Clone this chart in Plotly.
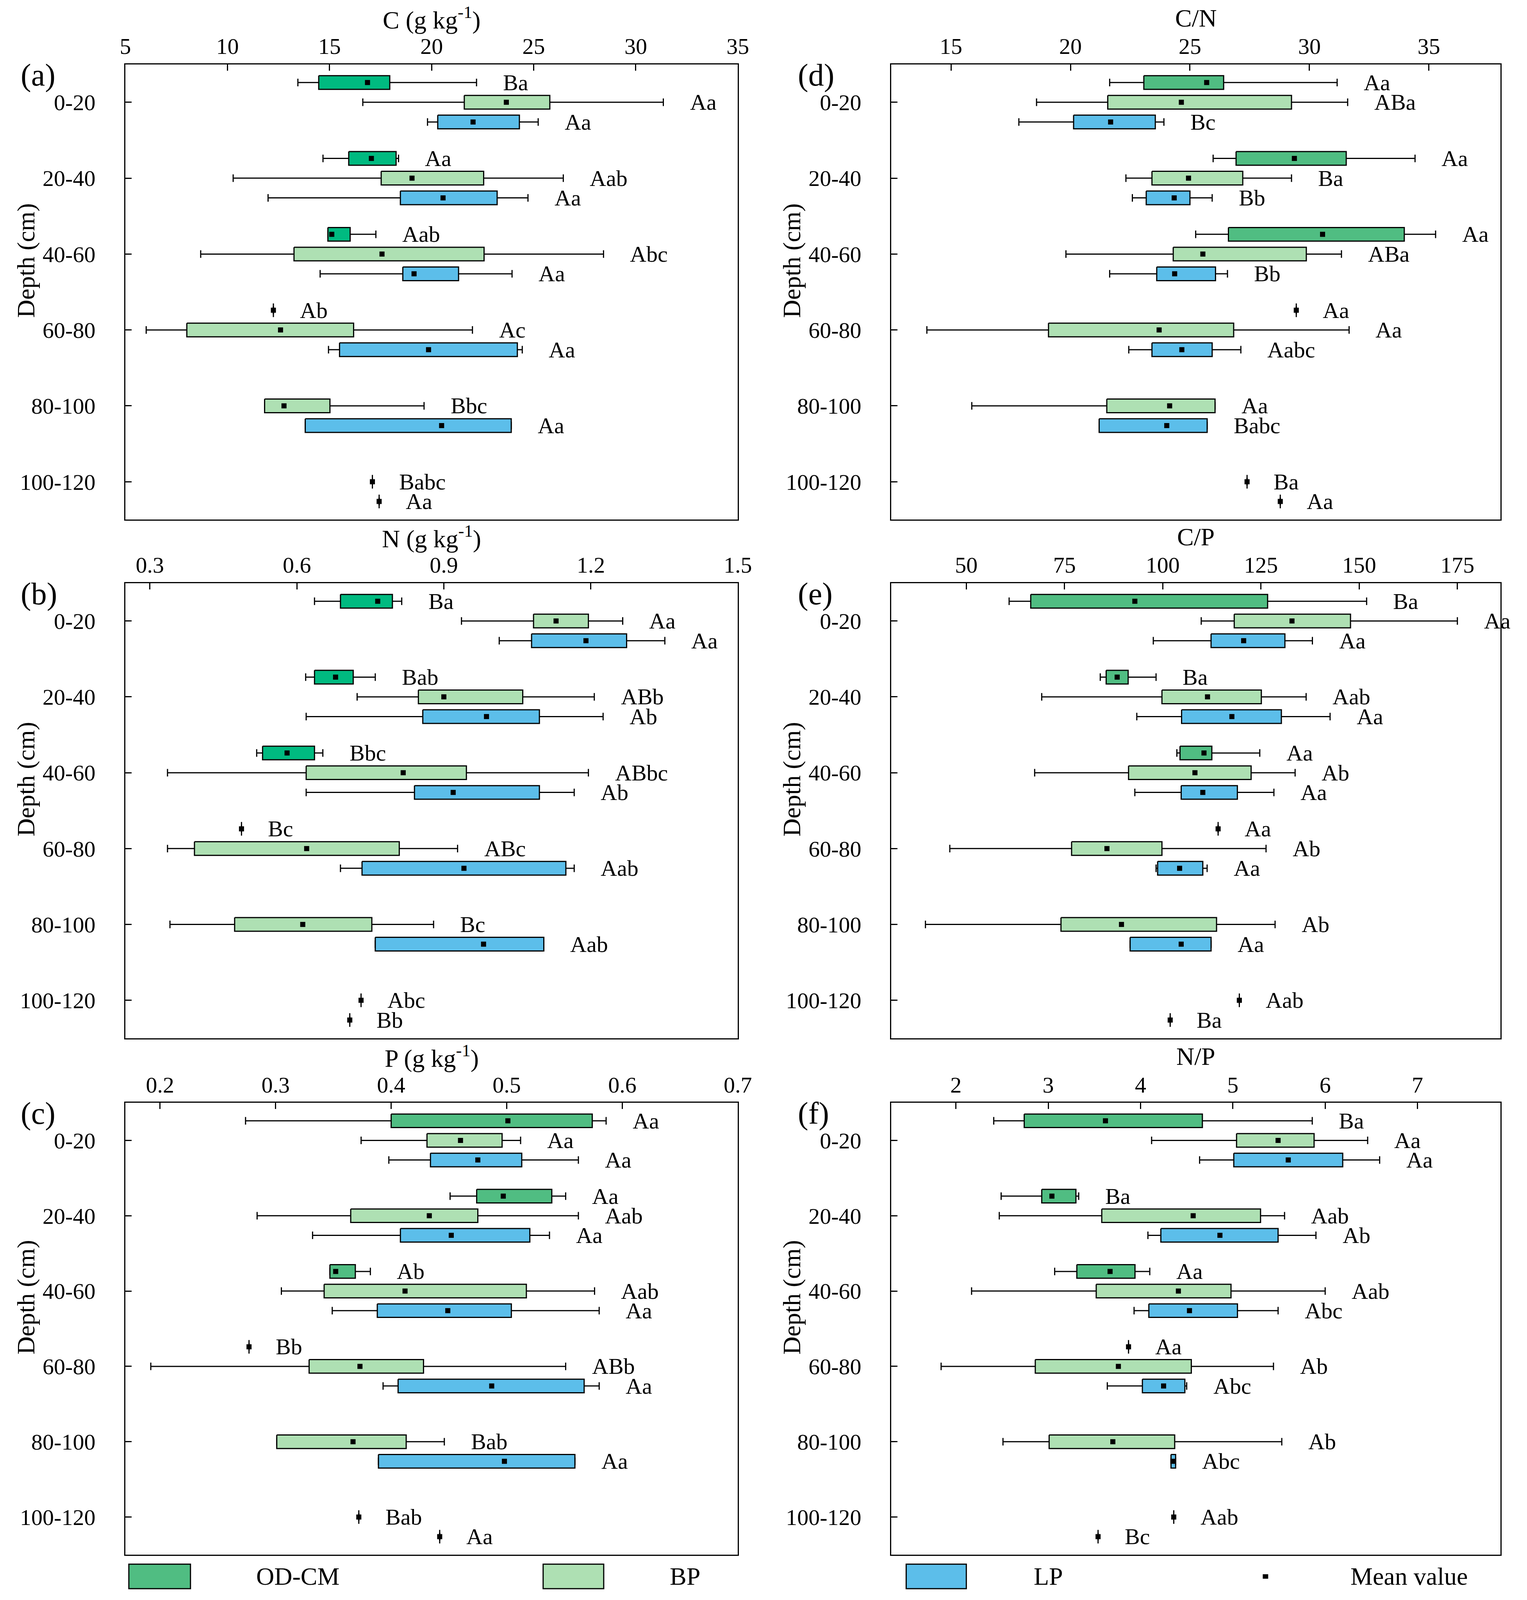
import plotly.graph_objects as go

FONT = "Liberation Serif"
DEPTHS = ["0-20", "20-40", "40-60", "60-80", "80-100", "100-120"]
GROUPS = ["OD-CM", "BP", "LP"]

# rows: (depth, min, q1, q3, max, mean, letters)
C_OD = [("0-20", 13.45, 14.47, 17.95, 22.2, 16.86, "Ba"),
        ("20-40", 14.68, 15.94, 18.26, 18.38, 17.05, "Aa"),
        ("40-60", 14.92, 14.92, 16.01, 17.27, 15.11, "Aab"),
        ("60-80", 12.25, 12.25, 12.25, 12.25, 12.25, "Ab")]
C_BP = [("0-20", 16.63, 21.6, 25.79, 31.35, 23.66, "Aa"),
        ("20-40", 10.28, 17.53, 22.55, 26.45, 19.04, "Aab"),
        ("40-60", 8.69, 13.26, 22.57, 28.42, 17.57, "Abc"),
        ("60-80", 6.02, 8.01, 16.18, 22.0, 12.6, "Ac"),
        ("80-100", 11.82, 11.82, 15.02, 19.63, 12.77, "Bbc"),
        ("100-120", 17.1, 17.1, 17.1, 17.1, 17.1, "Babc")]
C_LP = [("0-20", 19.8, 20.3, 24.3, 25.22, 22.03, "Aa"),
        ("20-40", 11.99, 18.47, 23.21, 24.72, 20.56, "Aa"),
        ("40-60", 14.54, 18.59, 21.32, 23.94, 19.14, "Aa"),
        ("60-80", 14.95, 15.49, 24.2, 24.44, 19.85, "Aa"),
        ("80-100", 13.81, 13.81, 23.9, 23.9, 20.49, "Aa"),
        ("100-120", 17.43, 17.43, 17.43, 17.43, 17.43, "Aa")]

N_OD = [("0-20", 0.636, 0.689, 0.795, 0.814, 0.765, "Ba"),
        ("20-40", 0.618, 0.636, 0.715, 0.76, 0.679, "Bab"),
        ("40-60", 0.518, 0.53, 0.636, 0.653, 0.58, "Bbc"),
        ("60-80", 0.487, 0.487, 0.487, 0.487, 0.487, "Bc")]
N_BP = [("0-20", 0.936, 1.083, 1.195, 1.265, 1.129, "Aa"),
        ("20-40", 0.723, 0.848, 1.061, 1.207, 0.9, "ABb"),
        ("40-60", 0.336, 0.619, 0.946, 1.195, 0.817, "ABbc"),
        ("60-80", 0.336, 0.391, 0.809, 0.928, 0.62, "ABc"),
        ("80-100", 0.341, 0.473, 0.753, 0.879, 0.612, "Bc"),
        ("100-120", 0.731, 0.731, 0.731, 0.731, 0.731, "Abc")]
N_LP = [("0-20", 1.013, 1.079, 1.273, 1.351, 1.19, "Aa"),
        ("20-40", 0.619, 0.857, 1.095, 1.225, 0.987, "Ab"),
        ("40-60", 0.619, 0.84, 1.095, 1.166, 0.919, "Ab"),
        ("60-80", 0.689, 0.733, 1.149, 1.166, 0.941, "Aab"),
        ("80-100", 0.76, 0.76, 1.104, 1.104, 0.981, "Aab"),
        ("100-120", 0.708, 0.708, 0.708, 0.708, 0.708, "Bb")]

P_OD = [("0-20", 0.274, 0.4, 0.574, 0.586, 0.501, "Aa"),
        ("20-40", 0.451, 0.474, 0.539, 0.551, 0.497, "Aa"),
        ("40-60", 0.347, 0.347, 0.369, 0.382, 0.352, "Ab"),
        ("60-80", 0.277, 0.277, 0.277, 0.277, 0.277, "Bb")]
P_BP = [("0-20", 0.374, 0.431, 0.496, 0.512, 0.46, "Aa"),
        ("20-40", 0.284, 0.365, 0.475, 0.562, 0.433, "Aab"),
        ("40-60", 0.305, 0.342, 0.517, 0.576, 0.412, "Aab"),
        ("60-80", 0.192, 0.329, 0.428, 0.551, 0.373, "ABb"),
        ("80-100", 0.301, 0.301, 0.413, 0.446, 0.367, "Bab"),
        ("100-120", 0.372, 0.372, 0.372, 0.372, 0.372, "Bab")]
P_LP = [("0-20", 0.398, 0.434, 0.513, 0.562, 0.475, "Aa"),
        ("20-40", 0.332, 0.408, 0.52, 0.537, 0.452, "Aa"),
        ("40-60", 0.349, 0.388, 0.504, 0.58, 0.449, "Aa"),
        ("60-80", 0.393, 0.406, 0.567, 0.58, 0.487, "Aa"),
        ("80-100", 0.389, 0.389, 0.559, 0.559, 0.498, "Aa"),
        ("100-120", 0.442, 0.442, 0.442, 0.442, 0.442, "Aa")]

CN_OD = [("0-20", 21.64, 23.07, 26.41, 31.16, 25.7, "Aa"),
         ("20-40", 25.97, 26.93, 31.54, 34.42, 29.37, "Aa"),
         ("40-60", 25.24, 26.61, 33.97, 35.28, 30.55, "Aa"),
         ("60-80", 29.45, 29.45, 29.45, 29.45, 29.45, "Aa")]
CN_BP = [("0-20", 18.58, 21.56, 29.25, 31.6, 24.64, "ABa"),
         ("20-40", 22.32, 23.41, 27.21, 29.25, 24.94, "Ba"),
         ("40-60", 19.81, 24.3, 29.87, 31.34, 25.54, "ABa"),
         ("60-80", 13.99, 19.08, 26.83, 31.66, 23.71, "Aa"),
         ("80-100", 15.87, 21.52, 26.05, 26.05, 24.15, "Aa"),
         ("100-120", 27.39, 27.39, 27.39, 27.39, 27.39, "Ba")]
CN_LP = [("0-20", 17.84, 20.13, 23.55, 23.91, 21.68, "Bc"),
         ("20-40", 22.59, 23.17, 25.0, 25.93, 24.34, "Bb"),
         ("40-60", 21.64, 23.61, 26.07, 26.57, 24.36, "Bb"),
         ("60-80", 22.44, 23.41, 25.93, 27.13, 24.66, "Aabc"),
         ("80-100", 21.2, 21.2, 25.72, 25.72, 24.03, "Babc"),
         ("100-120", 28.78, 28.78, 28.78, 28.78, 28.78, "Aa")]

CP_OD = [("0-20", 60.9, 66.4, 126.7, 151.9, 92.9, "Ba"),
         ("20-40", 84.1, 85.6, 91.2, 98.3, 88.4, "Ba"),
         ("40-60", 103.6, 104.4, 112.5, 124.7, 110.5, "Aa"),
         ("60-80", 114.1, 114.1, 114.1, 114.1, 114.1, "Aa")]
CP_BP = [("0-20", 109.8, 118.2, 147.8, 175.0, 132.9, "Aa"),
         ("20-40", 69.2, 99.8, 125.1, 136.5, 111.4, "Aab"),
         ("40-60", 67.4, 91.3, 122.5, 133.7, 108.2, "Ab"),
         ("60-80", 45.8, 76.8, 99.8, 126.3, 85.8, "Ab"),
         ("80-100", 39.6, 74.1, 113.7, 128.6, 89.5, "Ab"),
         ("100-120", 119.5, 119.5, 119.5, 119.5, 119.5, "Aab")]
CP_LP = [("0-20", 97.6, 112.3, 131.1, 138.1, 120.6, "Aa"),
         ("20-40", 93.4, 104.8, 130.2, 142.6, 117.6, "Aa"),
         ("40-60", 92.9, 104.7, 119.0, 128.3, 110.2, "Aa"),
         ("60-80", 98.3, 98.7, 110.2, 111.3, 104.3, "Aa"),
         ("80-100", 91.7, 91.7, 112.3, 112.3, 104.7, "Aa"),
         ("100-120", 101.9, 101.9, 101.9, 101.9, 101.9, "Ba")]

NP_OD = [("0-20", 2.41, 2.74, 4.67, 5.86, 3.62, "Ba"),
         ("20-40", 2.49, 2.93, 3.3, 3.33, 3.04, "Ba"),
         ("40-60", 3.07, 3.31, 3.94, 4.1, 3.67, "Aa"),
         ("60-80", 3.87, 3.87, 3.87, 3.87, 3.87, "Aa")]
NP_BP = [("0-20", 4.12, 5.04, 5.88, 6.46, 5.49, "Aa"),
         ("20-40", 2.47, 3.58, 5.3, 5.56, 4.57, "Aab"),
         ("40-60", 2.17, 3.52, 4.98, 6.0, 4.41, "Aab"),
         ("60-80", 1.84, 2.86, 4.55, 5.44, 3.76, "Ab"),
         ("80-100", 2.51, 3.01, 4.37, 5.53, 3.7, "Ab"),
         ("100-120", 4.36, 4.36, 4.36, 4.36, 4.36, "Aab")]
NP_LP = [("0-20", 4.64, 5.01, 6.19, 6.59, 5.6, "Aa"),
         ("20-40", 4.08, 4.22, 5.49, 5.9, 4.86, "Ab"),
         ("40-60", 3.93, 4.09, 5.05, 5.49, 4.53, "Abc"),
         ("60-80", 3.64, 4.02, 4.48, 4.5, 4.25, "Abc"),
         ("80-100", 4.33, 4.33, 4.38, 4.38, 4.35, "Abc"),
         ("100-120", 3.54, 3.54, 3.54, 3.54, 3.54, "Bc")]

TITLES = ["C (g kg<sup>-1</sup>)", "N (g kg<sup>-1</sup>)", "P (g kg<sup>-1</sup>)",
          "C/N", "C/P", "N/P"]
LETTERS = ["(a)", "(b)", "(c)", "(d)", "(e)", "(f)"]
XRANGES = [[5, 35], [0.25, 1.5], [0.17, 0.7], [12.5, 38], [30.9, 186], [1.3, 7.9]]
TICK0 = [5, 0.3, 0.2, 15, 50, 2]
DTICK = [5, 0.3, 0.1, 5, 25, 1]
DATA = [(C_OD, C_BP, C_LP), (N_OD, N_BP, N_LP), (P_OD, P_BP, P_LP),
        (CN_OD, CN_BP, CN_LP), (CP_OD, CP_BP, CP_LP), (NP_OD, NP_BP, NP_LP)]

# styles
OD_COLOR_AB = "#00BA80"
OD_COLOR = "#50BD82"
BP_COLOR = "#AEE0B3"
LP_COLOR = "#5CBEEA"
OFFSETS = {"OD-CM": -0.26, "BP": 0.0, "LP": 0.26}
BOX_H = 0.09
CAP_H = 0.05
W = 3910
H = 5096
XDOM = [[0.0793, 0.4857], [0.5875, 0.9918]]
YDOM = [[0.6752, 0.9598], [0.3511, 0.6356], [0.0283, 0.3108]]
TXT = 58
TTL = 64

fig = go.Figure()
annotations = []
shapes = []

for i in range(6):
    col = i // 3
    row = i % 3
    ax = "" if i == 0 else str(i + 1)
    xref, yref = "x" + ax, "y" + ax
    colors = [OD_COLOR_AB if i < 2 else OD_COLOR, BP_COLOR, LP_COLOR]
    for g, grp in enumerate(GROUPS):
        rows = DATA[i][g]
        wx, wy, bx, by, mx, my = [], [], [], [], [], []
        for (d, mn, q1, q3, mxv, mean, lab) in rows:
            yp = DEPTHS.index(d) + OFFSETS[grp]
            wx += [mn, q1, None, q3, mxv, None, mn, mn, None, mxv, mxv, None]
            wy += [yp, yp, None, yp, yp, None, yp - CAP_H, yp + CAP_H, None,
                   yp - CAP_H, yp + CAP_H, None]
            bx += [q1, q3, q3, q1, q1, None]
            by += [yp - BOX_H, yp - BOX_H, yp + BOX_H, yp + BOX_H, yp - BOX_H, None]
            mx.append(mean)
            my.append(yp)
            annotations.append(dict(x=mxv, y=yp, xref=xref, yref=yref, text=lab,
                                    showarrow=False, xanchor="left", yanchor="middle",
                                    xshift=66, font=dict(family=FONT, size=TXT, color="black")))
        fig.add_trace(go.Scatter(x=wx, y=wy, mode="lines", xaxis=xref, yaxis=yref,
                                 line=dict(color="black", width=3), showlegend=False,
                                 hoverinfo="skip"))
        fig.add_trace(go.Scatter(x=bx, y=by, mode="lines", fill="toself",
                                 fillcolor=colors[g], xaxis=xref, yaxis=yref,
                                 line=dict(color="black", width=3), name=grp,
                                 showlegend=False, hoverinfo="skip"))
        fig.add_trace(go.Scatter(x=mx, y=my, mode="markers", xaxis=xref, yaxis=yref,
                                 marker=dict(symbol="square", size=13, color="black"),
                                 showlegend=False, name="Mean value"))

    xd, yd = XDOM[col], YDOM[row]
    fig.layout["xaxis" + ax] = dict(
        domain=xd, range=XRANGES[i], anchor=yref, side="top",
        tick0=TICK0[i], dtick=DTICK[i], ticks="inside", ticklen=16, tickwidth=3,
        tickcolor="black", showline=True, linewidth=3, linecolor="black", mirror=True,
        showgrid=False, zeroline=False, ticklabelstandoff=0,
        tickfont=dict(family=FONT, size=TXT, color="black"))
    fig.layout["yaxis" + ax] = dict(
        domain=yd, range=[5.5, -0.5], anchor=xref, tickmode="array",
        tickvals=list(range(6)), ticktext=DEPTHS, ticks="inside", ticklen=16,
        tickwidth=3, tickcolor="black", showline=True, linewidth=3, linecolor="black",
        mirror=True, showgrid=False, zeroline=False, ticklabelstandoff=62,
        tickfont=dict(family=FONT, size=TXT, color="black"))
    annotations.append(dict(x=(xd[0] + xd[1]) / 2, y=yd[1], yshift=118, xref="paper",
                            yref="paper", text=TITLES[i], showarrow=False,
                            xanchor="center", yanchor="middle",
                            font=dict(family=FONT, size=TTL, color="black")))
    annotations.append(dict(x=xd[0] - (274 if col == 0 else 244) / W, y=yd[1],
                            yshift=-28, xref="paper", yref="paper", text=LETTERS[i],
                            showarrow=False, xanchor="left", yanchor="middle",
                            font=dict(family=FONT, size=80, color="black")))
    annotations.append(dict(x=xd[0] - 258 / W, y=(yd[0] + yd[1]) / 2 + 100 / H,
                            xref="paper", yref="paper", text="Depth (cm)",
                            showarrow=False, textangle=-90, xanchor="center",
                            yanchor="middle",
                            font=dict(family=FONT, size=TTL, color="black")))

# legend row drawn as shapes + text
LEG = [("OD-CM", OD_COLOR, 0.0816, 0.1225, 0.1655),
       ("BP", BP_COLOR, 0.3565, 0.3967, 0.4399),
       ("LP", LP_COLOR, 0.5974, 0.6373, 0.6816)]
for name, c, x0, x1, lx in LEG:
    shapes.append(dict(type="rect", xref="paper", yref="paper", x0=x0, x1=x1,
                       y0=0.00706, y1=0.02237, fillcolor=c,
                       line=dict(color="black", width=3)))
    annotations.append(dict(x=lx, y=0.0147, xref="paper", yref="paper", text=name,
                            showarrow=False, xanchor="left", yanchor="middle",
                            font=dict(family=FONT, size=TTL, color="black")))
shapes.append(dict(type="rect", xref="paper", yref="paper", x0=0.8358 - 0.0018,
                   x1=0.8358 + 0.0018, y0=0.0147 - 0.0014, y1=0.0147 + 0.0014,
                   fillcolor="black", line=dict(width=0)))
annotations.append(dict(x=0.8916, y=0.0147, xref="paper", yref="paper",
                        text="Mean value", showarrow=False, xanchor="left",
                        yanchor="middle", font=dict(family=FONT, size=TTL, color="black")))

fig.update_layout(autosize=True, margin=dict(l=0, r=0, t=0, b=0),
                  paper_bgcolor="white", plot_bgcolor="white",
                  annotations=annotations, shapes=shapes, hovermode=False,
                  font=dict(family=FONT, color="black"))

POST = ("document.body.style.margin='0';"
        "document.documentElement.style.overflow='hidden';"
        "document.body.style.overflow='hidden';"
        "Plotly.Plots.resize(document.getElementById('{plot_id}'));")
fig.write_html("out.html", default_width="100vw", default_height="100vh",
               config={"responsive": True, "displayModeBar": False},
               post_script=POST)
